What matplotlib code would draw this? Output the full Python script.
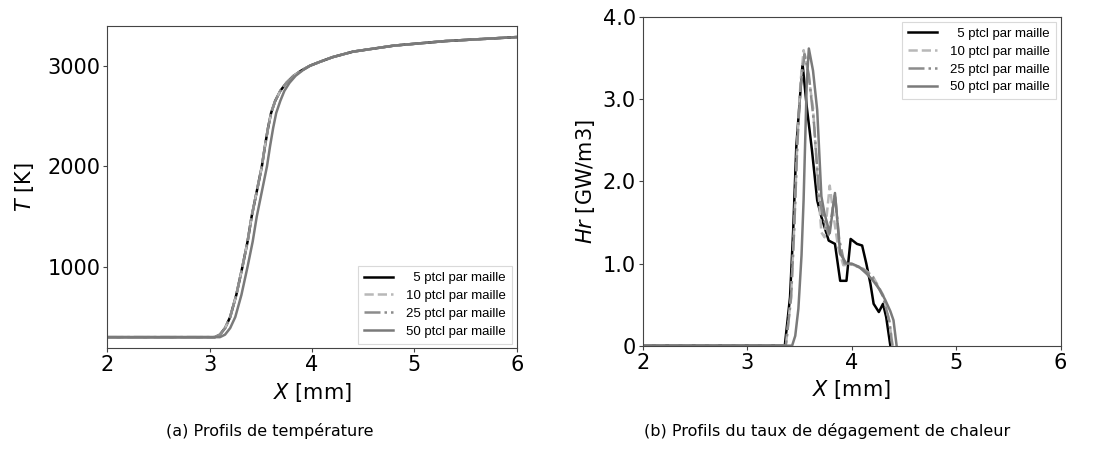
"""
Profils 1D de temperature et de taux de degagement de chaleur
pour differents nombres de particules par maille.
"""

import numpy as np
import matplotlib
matplotlib.use('Agg')
import matplotlib.pyplot as plt

# ---- Donnees ----
labels = ['  5 ptcl par maille', '10 ptcl par maille',
          '25 ptcl par maille', '50 ptcl par maille']

# (a) temperature : 5, 10 et 25 ptcl se superposent
x_T_fine = [2.0, 3.05, 3.10, 3.15, 3.20, 3.26, 3.32, 3.37, 3.41, 3.46, 3.51,
            3.54, 3.57, 3.60, 3.64, 3.69, 3.75, 3.82, 3.90, 3.98, 4.08, 4.2,
            4.4, 4.8, 5.3, 6.0]
T_fine = [300, 300, 325, 390, 500, 720, 1000, 1250, 1500, 1750, 2000,
          2200, 2380, 2530, 2650, 2750, 2830, 2900, 2955, 3000, 3040, 3085,
          3140, 3200, 3245, 3285]
x_T_50 = [2.0, 3.10, 3.15, 3.20, 3.25, 3.31, 3.37, 3.42, 3.46, 3.51, 3.56,
          3.59, 3.62, 3.65, 3.69, 3.73, 3.78, 3.84, 3.91, 3.98, 4.08, 4.2,
          4.4, 4.8, 5.3, 6.0]
T_50 = [300, 300, 325, 390, 500, 720, 1000, 1250, 1500, 1750, 2000,
        2200, 2380, 2530, 2650, 2750, 2830, 2900, 2955, 3000, 3040, 3085,
        3140, 3200, 3245, 3285]

# (b) taux de degagement de chaleur [GW/m3]
x_H_5 = [2.0, 3.36, 3.41, 3.44, 3.47, 3.51, 3.53, 3.57, 3.62, 3.67, 3.71,
         3.78, 3.84, 3.89, 3.95, 3.99, 4.05, 4.10, 4.14, 4.18, 4.21, 4.26,
         4.30, 4.33, 4.37]
H_5 = [0, 0, 0.59, 1.40, 2.42, 3.11, 3.43, 2.91, 2.38, 1.77, 1.57,
       1.28, 1.24, 0.79, 0.79, 1.30, 1.24, 1.22, 1.0, 0.75, 0.51, 0.41,
       0.51, 0.35, 0]
x_H_10 = [2.0, 3.37, 3.42, 3.45, 3.48, 3.51, 3.54, 3.58, 3.63, 3.68, 3.71,
          3.74, 3.79, 3.83, 3.87, 3.92, 4.0, 4.1, 4.2, 4.3, 4.36, 4.39]
H_10 = [0, 0, 0.6, 1.45, 2.5, 3.2, 3.6, 3.35, 2.9, 1.9, 1.38,
        1.32, 1.95, 1.55, 1.2, 0.98, 0.99, 0.95, 0.85, 0.62, 0.3, 0]
x_H_25 = [2.0, 3.37, 3.42, 3.45, 3.48, 3.51, 3.55, 3.59, 3.64, 3.69, 3.73,
          3.78, 3.84, 3.88, 3.93, 4.0, 4.1, 4.2, 4.3, 4.36, 4.39]
H_25 = [0, 0, 0.58, 1.42, 2.45, 3.15, 3.55, 3.3, 2.7, 1.8, 1.55,
        1.35, 1.85, 1.3, 1.0, 0.99, 0.94, 0.84, 0.6, 0.3, 0]
x_H_50 = [2.0, 3.43, 3.46, 3.49, 3.52, 3.54, 3.57, 3.59, 3.63, 3.67, 3.71,
          3.74, 3.79, 3.84, 3.89, 3.95, 4.0, 4.07, 4.14, 4.2, 4.27, 4.32,
          4.37, 4.40, 4.43]
H_50 = [0, 0, 0.12, 0.45, 1.1, 1.78, 3.2, 3.62, 3.35, 2.87, 1.82,
        1.61, 1.37, 1.86, 1.12, 1.0, 1.0, 0.96, 0.88, 0.8, 0.68, 0.56,
        0.42, 0.31, 0]

# ---- Styles ----
styles = [dict(color='black', ls='-'),
          dict(color='#b8b8b8', ls='--'),
          dict(color='#8c8c8c', ls='-.'),
          dict(color='#7a7a7a', ls='-')]
lw = 1.8
spine_color = '#444444'
leg_kw = dict(prop={'family': 'Liberation Sans', 'size': 9.5},
              handlelength=2.2, borderpad=0.45, labelspacing=0.42,
              handletextpad=1.0, fancybox=False, borderaxespad=0.35)

fig = plt.figure(figsize=(11.02, 4.54), dpi=100)
ax1 = fig.add_axes([0.0974, 0.233, 0.3715, 0.7097])
ax2 = fig.add_axes([0.5832, 0.2386, 0.3793, 0.7233])

# Panel (a)
T_series = [(x_T_fine, T_fine), (x_T_fine, T_fine), (x_T_fine, T_fine), (x_T_50, T_50)]
for (xs, ys), st, lab in zip(T_series, styles, labels):
    ax1.plot(xs, ys, lw=lw, label=lab, **st)
ax1.set_xlim(2, 6)
ax1.set_ylim(190, 3395)
ax1.set_yticks([1000, 2000, 3000])
ax1.set_xticks([2, 3, 4, 5, 6])
ax1.set_xlabel(r'$X$ [mm]', fontsize=15)
ax1.set_ylabel(r'$T$ [K]', fontsize=15, labelpad=8)
leg1 = ax1.legend(loc='lower right', **leg_kw)

# Panel (b)
H_series = [(x_H_5, H_5), (x_H_10, H_10), (x_H_25, H_25), (x_H_50, H_50)]
for (xs, ys), st, lab in zip(H_series, styles, labels):
    ax2.plot(xs, ys, lw=lw, label=lab, **st)
ax2.set_xlim(2, 6)
ax2.set_ylim(0, 4.0)
ax2.set_xticks([2, 3, 4, 5, 6])
ax2.set_yticks([0, 1, 2, 3, 4])
ax2.set_yticklabels(['0', '1.0', '2.0', '3.0', '4.0'])
ax2.set_xlabel(r'$X$ [mm]', fontsize=15)
ax2.set_ylabel(r'$Hr$ [GW/m3]', fontsize=15)
leg2 = ax2.legend(loc='upper right', **leg_kw)

for ax in (ax1, ax2):
    ax.tick_params(labelsize=15, length=3, color=spine_color, pad=2)
    for sp in ax.spines.values():
        sp.set_color(spine_color)
for leg in (leg1, leg2):
    leg.get_frame().set_edgecolor('#d0d0d0')
    leg.get_frame().set_linewidth(0.8)

# Sous-legendes
cap = dict(fontsize=11.5, ha='center', va='center', family='DejaVu Sans')
fig.text(0.245, 0.05, '(a) Profils de température', **cap)
fig.text(0.751, 0.05, '(b) Profils du taux de dégagement de chaleur', **cap)

plt.savefig('out.png', dpi=100)
